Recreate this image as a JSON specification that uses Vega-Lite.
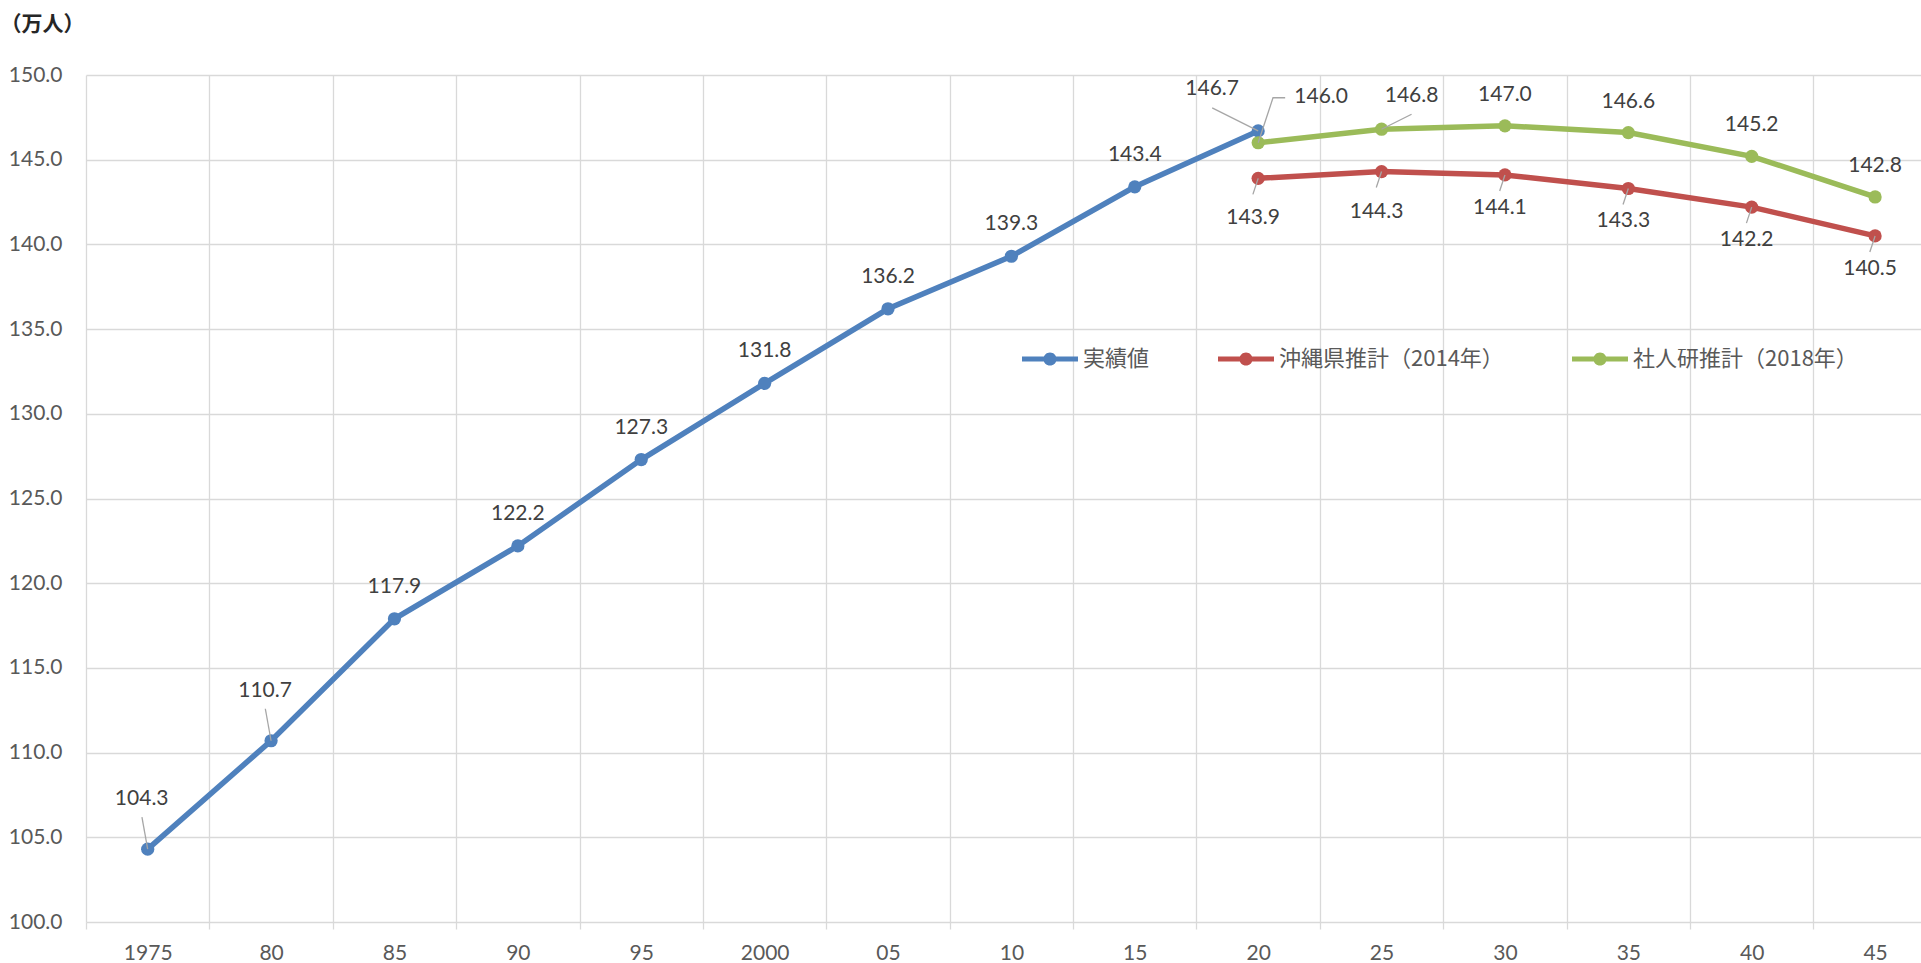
{
  "$schema": "https://vega.github.io/schema/vega-lite/v6.json",
  "width": 1835,
  "height": 847,
  "autosize": {"type": "none"},
  "padding": {"left": 86, "top": 75, "right": 0, "bottom": 41},
  "background": "white",
  "config": {
    "view": {"stroke": null},
    "font": "Lato, Noto Sans CJK JP",
    "legend": {
      "orient": "none",
      "legendX": 936,
      "legendY": 256,
      "direction": "horizontal",
      "symbolType": "M-1,-0.09H1V0.09H-1Z M0.235,0A0.235,0.235,0,1,1,-0.235,0A0.235,0.235,0,1,1,0.235,0Z",
      "symbolSize": 3136,
      "symbolStrokeWidth": 0,
      "labelFont": "Noto Sans CJK JP",
      "labelFontSize": 22,
      "labelLimit": 400,
      "labelColor": "#595959",
      "labelOffset": 5,
      "columnPadding": 68,
      "padding": 0
    }
  },
  "resolve": {"legend": {"color": "independent"}},
  "data": {
    "values": [
      {"series": "実績値", "year": 1975, "value": 104.3},
      {"series": "実績値", "year": 1980, "value": 110.7},
      {"series": "実績値", "year": 1985, "value": 117.9},
      {"series": "実績値", "year": 1990, "value": 122.2},
      {"series": "実績値", "year": 1995, "value": 127.3},
      {"series": "実績値", "year": 2000, "value": 131.8},
      {"series": "実績値", "year": 2005, "value": 136.2},
      {"series": "実績値", "year": 2010, "value": 139.3},
      {"series": "実績値", "year": 2015, "value": 143.4},
      {"series": "実績値", "year": 2020, "value": 146.7},
      {"series": "沖縄県推計（2014年）", "year": 2020, "value": 143.9},
      {"series": "沖縄県推計（2014年）", "year": 2025, "value": 144.3},
      {"series": "沖縄県推計（2014年）", "year": 2030, "value": 144.1},
      {"series": "沖縄県推計（2014年）", "year": 2035, "value": 143.3},
      {"series": "沖縄県推計（2014年）", "year": 2040, "value": 142.2},
      {"series": "沖縄県推計（2014年）", "year": 2045, "value": 140.5},
      {"series": "社人研推計（2018年）", "year": 2020, "value": 146.0},
      {"series": "社人研推計（2018年）", "year": 2025, "value": 146.8},
      {"series": "社人研推計（2018年）", "year": 2030, "value": 147.0},
      {"series": "社人研推計（2018年）", "year": 2035, "value": 146.6},
      {"series": "社人研推計（2018年）", "year": 2040, "value": 145.2},
      {"series": "社人研推計（2018年）", "year": 2045, "value": 142.8}
    ]
  },
  "encoding": {
    "x": {
      "field": "year",
      "type": "quantitative",
      "scale": {"domain": [1972.5, 2046.86], "nice": false, "zero": false},
      "axis": {
        "title": null,
        "values": [1972.5, 1977.5, 1982.5, 1987.5, 1992.5, 1997.5, 2002.5, 2007.5, 2012.5, 2017.5, 2022.5, 2027.5, 2032.5, 2037.5, 2042.5],
        "labelExpr": "(datum.value + 2.5) == 1975 || (datum.value + 2.5) == 2000 ? '' + (datum.value + 2.5) : slice('0' + ((datum.value + 2.5) % 100), -2)",
        "labelOffset": 61.7,
        "labelFlush": false,
        "labelOverlap": false,
        "labelBound": false,
        "labelFont": "Lato",
        "labelFontSize": 21,
        "labelColor": "#595959",
        "labelPadding": 13,
        "grid": true,
        "gridColor": "#d9d9d9",
        "gridWidth": 1.3,
        "ticks": true,
        "tickSize": 7,
        "tickColor": "#d9d9d9",
        "tickWidth": 1.3,
        "domain": false
      }
    },
    "y": {
      "field": "value",
      "type": "quantitative",
      "scale": {"domain": [100, 150], "nice": false, "zero": false},
      "axis": {
        "title": "（万人）",
        "titleAngle": 0,
        "titleX": -86,
        "titleY": -51,
        "titleAlign": "left",
        "titleBaseline": "middle",
        "titleFont": "Noto Sans CJK JP",
        "titleFontSize": 21,
        "titleFontWeight": "bold",
        "titleColor": "#262626",
        "values": [100, 105, 110, 115, 120, 125, 130, 135, 140, 145, 150],
        "format": ".1f",
        "labelFont": "Lato",
        "labelFontSize": 21,
        "labelColor": "#595959",
        "labelPadding": 24,
        "ticks": false,
        "domain": false,
        "grid": true,
        "gridColor": "#d9d9d9",
        "gridWidth": 1.3
      }
    }
  },
  "layer": [
    {
      "mark": {"type": "line", "strokeWidth": 5.5},
      "encoding": {
        "color": {
          "field": "series",
          "type": "nominal",
          "scale": {"domain": ["実績値", "沖縄県推計（2014年）", "社人研推計（2018年）"], "range": ["#4f81bd", "#c0504d", "#9bbb59"]},
          "legend": null
        },
        "detail": {"field": "series"}
      }
    },
    {
      "mark": {"type": "point", "filled": true, "size": 175, "opacity": 1},
      "encoding": {
        "color": {
          "field": "series",
          "type": "nominal",
          "scale": {"domain": ["実績値", "沖縄県推計（2014年）", "社人研推計（2018年）"], "range": ["#4f81bd", "#c0504d", "#9bbb59"]},
          "legend": {"title": null}
        }
      }
    },
    {
      "transform": [{"filter": "datum.series == '実績値' && datum.year <= 1980"}],
      "mark": {"type": "point", "shape": "M0,0L-0.18,-1", "size": 4096, "filled": false, "stroke": "#a6a6a6", "strokeWidth": 1.3, "opacity": 1}
    },
    {
      "transform": [{"filter": "datum.series == '実績値' && datum.year == 2020"}],
      "mark": {"type": "point", "shape": "M0,0L-1,-0.5", "size": 8464, "filled": false, "stroke": "#a6a6a6", "strokeWidth": 1.3, "opacity": 1}
    },
    {
      "transform": [{"filter": "datum.series == '社人研推計（2018年）' && datum.year == 2020"}],
      "mark": {"type": "point", "shape": "M0,0L0.33,-1L0.6,-1", "size": 8100, "filled": false, "stroke": "#a6a6a6", "strokeWidth": 1.3, "opacity": 1}
    },
    {
      "transform": [{"filter": "datum.series == '社人研推計（2018年）' && datum.year == 2025"}],
      "mark": {"type": "point", "shape": "M0,0L1,-0.5", "size": 3600, "filled": false, "stroke": "#a6a6a6", "strokeWidth": 1.3, "opacity": 1}
    },
    {
      "transform": [{"filter": "datum.series == '沖縄県推計（2014年）'"}],
      "mark": {"type": "point", "shape": "M0,0L-0.33,1", "size": 1024, "filled": false, "stroke": "#a6a6a6", "strokeWidth": 1.3, "opacity": 1}
    },
    {
      "transform": [{"filter": "datum.series == '実績値' && datum.year >= 1985 && datum.year <= 2015"}],
      "mark": {"type": "text", "dy": -32, "fontSize": 21, "font": "Lato", "color": "#404040", "baseline": "middle"},
      "encoding": {"text": {"field": "value", "type": "quantitative", "format": ".1f"}}
    },
    {
      "transform": [{"filter": "datum.series == '実績値' && datum.year <= 1980"}],
      "mark": {"type": "text", "dx": -6, "dy": -50, "fontSize": 21, "font": "Lato", "color": "#404040", "baseline": "middle"},
      "encoding": {"text": {"field": "value", "type": "quantitative", "format": ".1f"}}
    },
    {
      "transform": [{"filter": "datum.series == '実績値' && datum.year == 2020"}],
      "mark": {"type": "text", "dx": -46, "dy": -42, "fontSize": 21, "font": "Lato", "color": "#404040", "baseline": "middle"},
      "encoding": {"text": {"field": "value", "type": "quantitative", "format": ".1f"}}
    },
    {
      "transform": [{"filter": "datum.series == '社人研推計（2018年）' && datum.year == 2020"}],
      "mark": {"type": "text", "dx": 63, "dy": -46, "fontSize": 21, "font": "Lato", "color": "#404040", "baseline": "middle"},
      "encoding": {"text": {"field": "value", "type": "quantitative", "format": ".1f"}}
    },
    {
      "transform": [{"filter": "datum.series == '社人研推計（2018年）' && datum.year == 2025"}],
      "mark": {"type": "text", "dx": 30, "dy": -33, "fontSize": 21, "font": "Lato", "color": "#404040", "baseline": "middle"},
      "encoding": {"text": {"field": "value", "type": "quantitative", "format": ".1f"}}
    },
    {
      "transform": [{"filter": "datum.series == '社人研推計（2018年）' && datum.year >= 2030"}],
      "mark": {"type": "text", "dy": -31, "fontSize": 21, "font": "Lato", "color": "#404040", "baseline": "middle"},
      "encoding": {"text": {"field": "value", "type": "quantitative", "format": ".1f"}}
    },
    {
      "transform": [{"filter": "datum.series == '沖縄県推計（2014年）' && datum.year <= 2025"}],
      "mark": {"type": "text", "dx": -5, "dy": 40, "fontSize": 21, "font": "Lato", "color": "#404040", "baseline": "middle"},
      "encoding": {"text": {"field": "value", "type": "quantitative", "format": ".1f"}}
    },
    {
      "transform": [{"filter": "datum.series == '沖縄県推計（2014年）' && datum.year >= 2030"}],
      "mark": {"type": "text", "dx": -5, "dy": 33, "fontSize": 21, "font": "Lato", "color": "#404040", "baseline": "middle"},
      "encoding": {"text": {"field": "value", "type": "quantitative", "format": ".1f"}}
    }
  ]
}
